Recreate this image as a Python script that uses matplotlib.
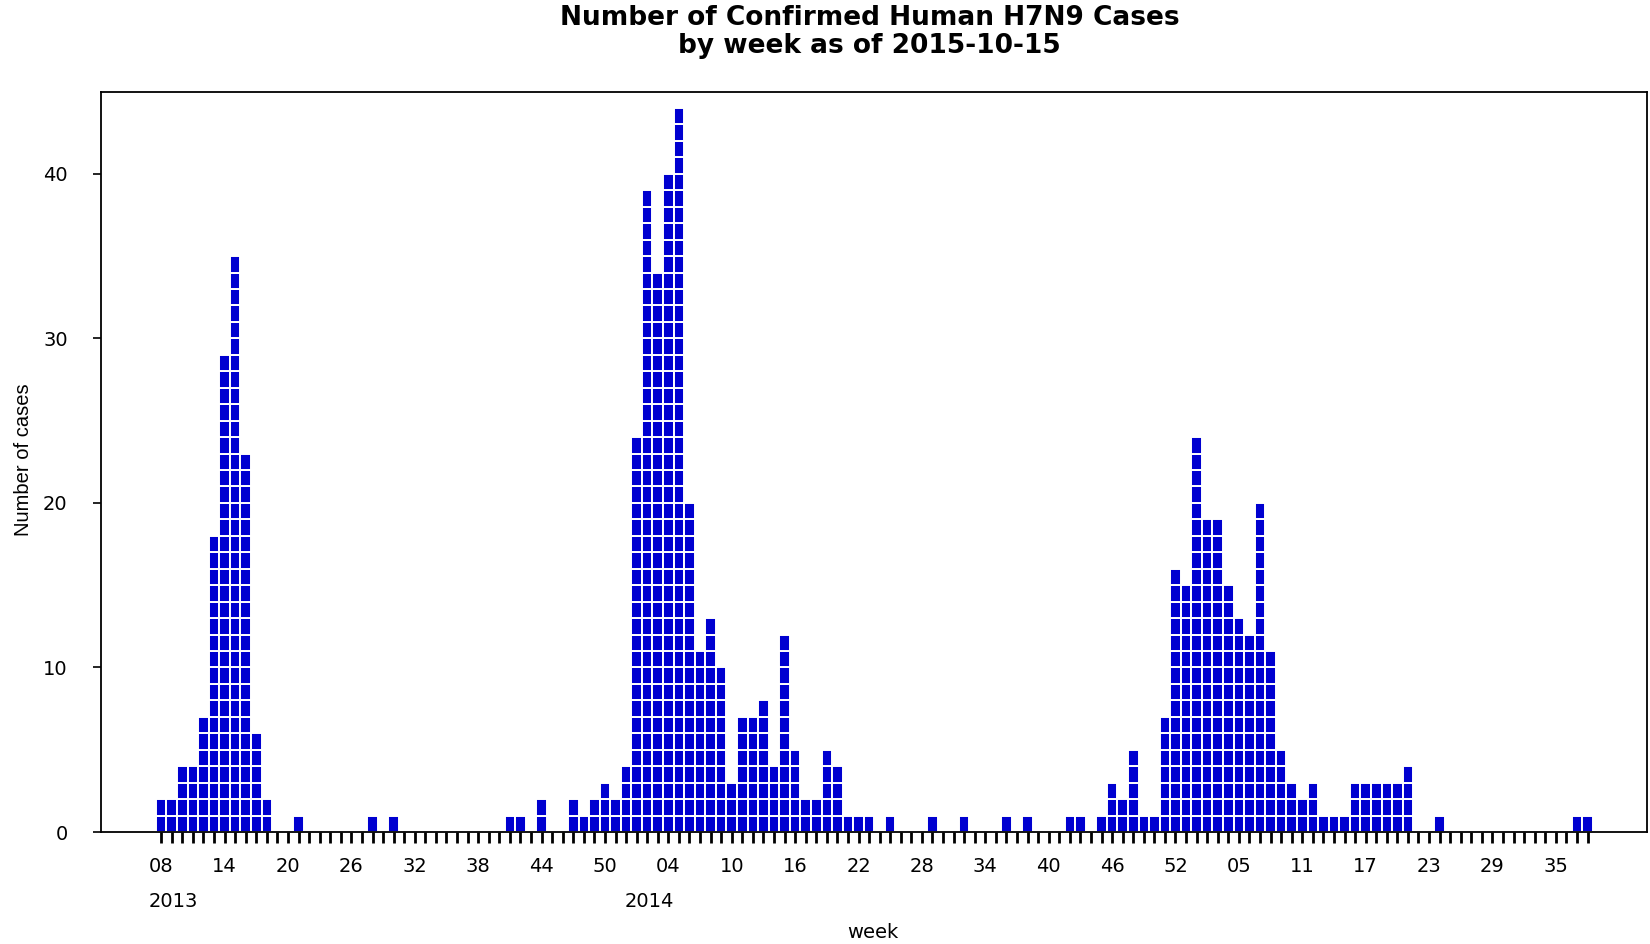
import numpy as np
import matplotlib
matplotlib.use('Agg')
import matplotlib.pyplot as plt

# weekly confirmed cases, starting 2013 week 08 (epi weeks, 2014 has 53)
cases = [2, 2, 4, 4, 7, 18, 29, 35, 23, 6, 2,
         0, 0, 1, 0, 0, 0, 0, 0, 0, 1, 0, 1,
         0, 0, 0, 0, 0, 0, 0, 0, 0, 0, 1, 1, 0, 2, 0, 0,
         2, 1, 2, 3, 2, 4, 24, 39, 34, 40, 44, 20, 11, 13, 10,
         3, 7, 7, 8, 4, 12, 5, 2, 2, 5, 4, 1, 1, 1, 0, 1,
         0, 0, 0, 1, 0, 0, 1, 0, 0, 0, 1, 0, 1, 0, 0, 0, 1, 1, 0,
         1, 3, 2, 5, 1, 1, 7, 16, 15, 24, 19, 19, 15, 13, 12, 20, 11,
         5, 3, 2, 3, 1, 1, 1, 3, 3, 3, 3, 3, 4, 0, 0, 1,
         0, 0, 0, 0, 0, 0, 0, 0, 0, 0, 0, 0, 1, 1]

week_labels = ['08', '14', '20', '26', '32', '38', '44', '50', '04', '10', '16',
               '22', '28', '34', '40', '46', '52', '05', '11', '17', '23', '29', '35']
year_labels = ['2013', '2014']
year_weeks = [1.1, 46.2]

cases = np.array(cases)
x = np.arange(len(cases))

fig = plt.figure(figsize=(16.5, 9.44), dpi=100)
ax = fig.add_axes([0.0612, 0.1186, 0.9368, 0.7844])

# stack one square per case
for level in range(cases.max()):
    m = cases > level
    ax.bar(x[m], 1, bottom=level, width=1.0, color='#0000d0',
           edgecolor='white', linewidth=1.4)

ax.set_xlim(-5.7, 140.6)
ax.set_ylim(0, 45)

ax.set_xticks(x)
ax.set_xticklabels([week_labels[i // 6] if i % 6 == 0 and i // 6 < len(week_labels) else ''
                    for i in x], fontsize=14)
ax.tick_params(axis='x', length=8, width=2.0, pad=10, direction='out')
ax.set_yticks([0, 10, 20, 30, 40])
ax.tick_params(axis='y', length=6, width=1.2, pad=18, labelsize=14)

for s in ax.spines.values():
    s.set_linewidth(1.3)

for lab, w in zip(year_labels, year_weeks):
    ax.annotate(lab, xy=(w, 0.0455), xycoords=('data', 'figure fraction'),
                ha='center', va='center', fontsize=14)

fig.text(0.529, 0.0117, 'week', ha='center', va='center', fontsize=14)
fig.text(0.014, 0.513, 'Number of cases', rotation=90, ha='center', va='center',
         fontsize=14.5, family=['Liberation Sans Narrow', 'Liberation Sans', 'DejaVu Sans'])
fig.text(0.527, 0.981, 'Number of Confirmed Human H7N9 Cases', ha='center', va='center',
         fontsize=19, fontweight='bold')
fig.text(0.527, 0.951, 'by week as of 2015-10-15', ha='center', va='center',
         fontsize=19, fontweight='bold')

fig.savefig('out.png', dpi=100)
